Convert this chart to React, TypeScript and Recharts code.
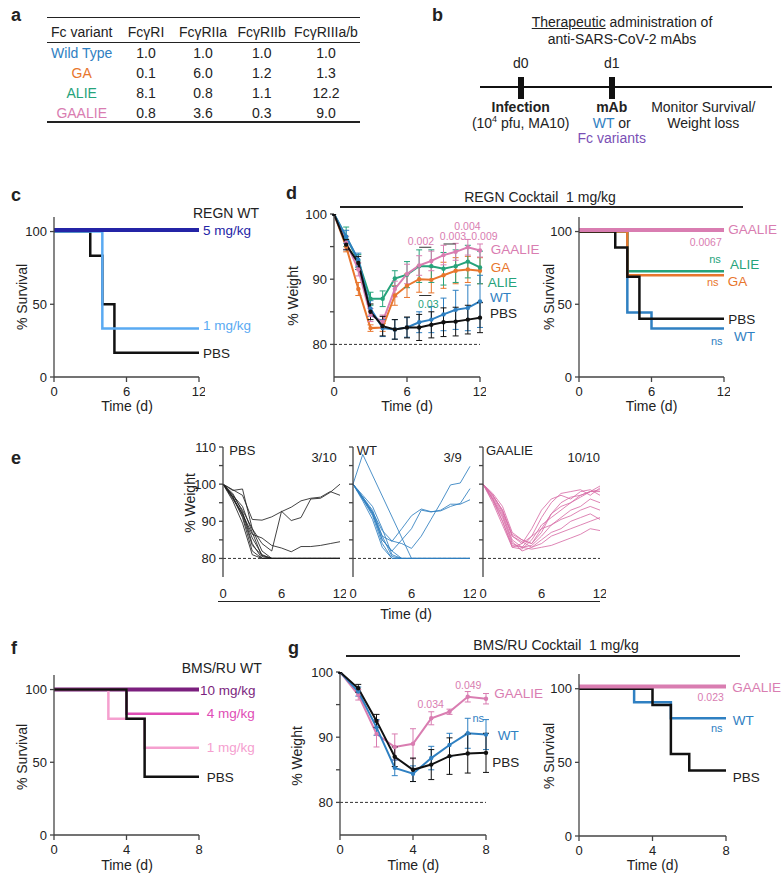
import React from "react";
import { LineChart, Line, XAxis, YAxis, ErrorBar, ReferenceLine } from "recharts";

const FONT = "'Liberation Sans', Arial, sans-serif";
const INK = "#222";
const AX = "#444";

const C_WT = "#2f80c2";
const C_GA = "#e8762d";
const C_ALIE = "#26a37b";
const C_GAALIE = "#d97db1";
const C_PBS = "#111111";

// ---- a: fold change table ----
const variants = ["Wild Type", "GA", "ALIE", "GAALIE"];
const variantColors = [C_WT, C_GA, C_ALIE, C_GAALIE];
const receptors = ["FcγRI", "FcγRIIa", "FcγRIIb", "FcγRIIIa/b"];
const foldRI = [1.0, 0.1, 8.1, 0.8];
const foldRIIa = [1.0, 6.0, 0.8, 3.6];
const foldRIIb = [1.0, 1.2, 1.1, 0.3];
const foldRIIIab = [1.0, 1.3, 12.2, 9.0];

// ---- c: REGN WT survival ----
const cPbsT = [0, 3, 4, 5, 12];
const cPbsS = [100, 83.3, 50, 16.7, 16.7];
const c1T = [0, 4, 12];
const c1S = [100, 33.3, 33.3];
const c5T = [0, 12];
const c5S = [101, 101];

// ---- d: REGN cocktail weight ----
const dDays = [0, 1, 2, 3, 4, 5, 6, 7, 8, 9, 10, 11, 12];
const dPbs = [100, 95.3, 92.5, 85, 82.8, 82.3, 82.6, 82.6, 83, 83.4, 83.5, 83.8, 84.1];
const dPbsErr = [0, 0.8, 1, 1.2, 1.5, 1.5, 1.6, 2, 2, 2.2, 2.2, 2.2, 2.3];
const dWt = [100, 96.5, 93, 85.5, 82.5, 82.3, 82.6, 83.4, 83.8, 84.6, 85.3, 85.6, 86.6];
const dWtErr = [0, 1, 1, 1.2, 1.3, 1.5, 1.5, 1.6, 2, 2.5, 3, 3.5, 4];
const dAlie = [100, 96.5, 92.8, 87, 87, 90.1, 90.7, 92, 92, 91.6, 92, 92.7, 91.8];
const dAlieErr = [0, 1.5, 1, 1, 1.2, 1.2, 2, 2.5, 2.5, 2.5, 2.5, 2.5, 2.5];
const dGa = [100, 95, 88.5, 82.5, 82.6, 87.5, 89, 90, 89.9, 90.6, 91.3, 91.5, 91.3];
const dGaErr = [0, 0.8, 1, 0.5, 0.6, 1.5, 1.8, 2, 2, 2, 2, 2, 2];
const dGaalie = [100, 95.6, 91.5, 84.5, 83.5, 88.5, 90.8, 92.1, 92.8, 93.7, 94.2, 94.9, 94.4];
const dGaalieErr = [0, 1, 1, 1, 1, 1.2, 1.5, 1.5, 1.5, 1.5, 1.3, 1.2, 1];

// ---- d: REGN cocktail survival ----
const dsGaalieT = [0, 12];
const dsGaalieS = [101, 101];
const dsAlieT = [0, 4, 12];
const dsAlieS = [100, 72.7, 72.7];
const dsGaT = [0, 4, 12];
const dsGaS = [100, 70, 70];
const dsPbsT = [0, 3, 4, 5, 12];
const dsPbsS = [100, 89, 69, 40, 40];
const dsWtT = [0, 4, 6, 12];
const dsWtS = [100, 44.4, 33.3, 33.3];

// ---- e: individual mice ----
const ePbs = [
  [100, 97, 93, 88, 84, 82, 92.7, 90.2, 91, 96, 96.2, 97.8, 100],
  [100, 98.5, 97, 90.5, 90.3, 91.2, 92.6, 93.8, 95.5, 96.2, 96.5, 98, 97],
  [100, 96.5, 92, 86.5, 85.5, 83.5, 82.8, 81.8, 83.2, 83.2, 83.5, 84, 84.5],
  [100, 98.3, 98.7, 88, 82, 80, 80, 80, 80, 80, 80, 80, 80],
  [100, 97.5, 92.5, 84, 80, 80, 80, 80, 80, 80, 80, 80, 80],
  [100, 96.5, 91, 82, 80, 80, 80, 80, 80, 80, 80, 80, 80],
  [100, 96, 92, 85.5, 81, 80, 80, 80, 80, 80, 80, 80, 80],
  [100, 97, 94, 87, 80.5, 80, 80, 80, 80, 80, 80, 80, 80],
  [100, 95.5, 89.5, 81, 80, 80, 80, 80, 80, 80, 80, 80, 80],
  [100, 96.5, 91.5, 83.5, 80.8, 80, 80, 80, 80, 80, 80, 80, 80],
];
const eWt = [
  [100, 108, null, null, null, null, 80, 80, 80, 80, 80, 80, 80],
  [100, 96, 92.5, 87.5, 84.7, 84, 82.7, 86, 90.5, 95, 99.8, 100.3, 104.8],
  [100, 96, 92, 86, 84.6, 88, 91.5, 93.3, 92.6, 92.8, 94, 94.8, 98.8],
  [100, 96.5, 92.5, 85, 82, 85, 88, 93, 92.5, 93, 94.6, 94.6, 95.8],
  [100, 96.5, 93, 86, 80.5, 80, 80, 80, 80, 80, 80, 80, 80],
  [100, 96, 91.5, 84, 80, 80, 80, 80, 80, 80, 80, 80, 80],
  [100, 97, 94, 88, 81, 80, 80, 80, 80, 80, 80, 80, 80],
  [100, 95.5, 90.5, 83, 80, 80, 80, 80, 80, 80, 80, 80, 80],
  [100, 96.5, 92, 85, 82, 80, 80, 80, 80, 80, 80, 80, 80],
];
const eGaalie = [
  [100, 97, 93, 86, 84, 88, 93, 96, 97, 96, 98, 98.5, 97],
  [100, 96, 91, 84, 83, 86, 91, 95, 97.5, 98, 98.5, 97, 99],
  [100, 97.5, 94, 87, 85, 84, 88, 92, 94, 95, 96.5, 98, 99.5],
  [100, 96, 90, 83, 82.5, 85, 89, 91, 93, 95, 97, 98, 98],
  [100, 96.5, 92, 85, 83, 83.5, 86, 89, 91, 93, 94, 96, 95],
  [100, 95, 89, 83, 84, 86, 88, 89, 90.5, 91.5, 93, 94, 93],
  [100, 97, 92.5, 86, 84.5, 83, 85, 87, 88, 90, 91, 92, 90.5],
  [100, 96, 91.5, 84.5, 82, 83, 84, 86, 87, 88, 89, 90, 91],
  [100, 95.5, 90, 83.5, 83, 82.5, 83, 83.5, 84.5, 85.5, 86.5, 88, 87.5],
  [100, 97, 93, 86.5, 85, 84, 87, 92, 95, 96.5, 97, 98, 98.5],
];

// ---- f: BMS/RU WT survival ----
const f10T = [0, 8];
const f10S = [100, 100];
const f4T = [0, 4, 8];
const f4S = [100, 83.3, 83.3];
const f1T = [0, 3, 5, 8];
const f1S = [100, 80, 60, 60];
const fPbsT = [0, 4, 5, 8];
const fPbsS = [100, 80, 40, 40];

// ---- g: BMS/RU cocktail ----
const gDays = [0, 1, 2, 3, 4, 5, 6, 7, 8];
const gPbs = [100, 97.5, 92.5, 87, 85, 85.8, 87.1, 87.5, 87.6];
const gPbsErr = [0, 0.6, 1, 1.5, 1.8, 2.3, 2.8, 3, 3];
const gWt = [100, 97, 91.5, 85.3, 84.4, 86.8, 88.8, 90.6, 90.4];
const gWtErr = [0, 0.7, 1.2, 1.2, 1.2, 1.8, 1.8, 2.3, 2.3];
const gGaalie = [100, 96.5, 90.5, 88.5, 89, 92.9, 93.9, 96.2, 95.9];
const gGaalieErr = [0, 0.8, 2, 2, 2.3, 1, 0.4, 0.8, 0.8];
const gsGaalieT = [0, 8];
const gsGaalieS = [101.5, 101.5];
const gsWtT = [0, 3, 5, 8];
const gsWtS = [100, 90.9, 80, 80];
const gsPbsT = [0, 4, 5, 6, 8];
const gsPbsS = [100, 88.9, 55.6, 44.4, 44.4];

const km = (t: number[], s: number[]) => t.map((x, i) => ({ t: x, v: s[i] }));
const wts = (t: number[], v: (number | null)[], e?: number[]) =>
  t.map((x, i) => ({ t: x, v: v[i], e: e ? e[i] : 0 }));

type Box = [number, number, number, number];
const YW = 34;
const XH = 26;
const MR = 6;
const MT = 6;

function Plot(props: {
  box: Box;
  xMax: number;
  xTicks: number[];
  yDomain: [number, number];
  yTicks: number[];
  yFmt?: (v: number) => string;
  bare?: boolean;
  children: React.ReactNode;
}) {
  const [x0, y0, x1, y1] = props.box;
  const w = YW + (x1 - x0) + MR;
  const h = MT + (y1 - y0) + XH;
  const tickStyle = { fontSize: 13, fill: INK, fontFamily: FONT };
  return (
    <div style={{ position: "absolute", left: x0 - YW, top: y0 - MT }}>
      <LineChart width={w} height={h} margin={{ top: MT, right: MR, bottom: 0, left: 0 }}>
        <XAxis
          type="number"
          dataKey="t"
          domain={[0, props.xMax]}
          ticks={props.xTicks}
          interval={0}
          height={XH}
          axisLine={props.bare ? false : { stroke: AX, strokeWidth: 1.3 }}
          tickLine={props.bare ? false : { stroke: AX, strokeWidth: 1.3 }}
          tickSize={props.bare ? 0 : 5}
          tickMargin={props.bare ? 12 : 5}
          tick={tickStyle}
        />
        <YAxis
          type="number"
          domain={props.yDomain}
          ticks={props.yTicks}
          interval={0}
          width={YW}
          axisLine={{ stroke: AX, strokeWidth: 1.3 }}
          tickLine={{ stroke: AX, strokeWidth: 1.3 }}
          tickSize={4}
          tickMargin={3}
          tick={tickStyle}
          tickFormatter={props.yFmt}
          allowDataOverflow
        />
        {props.children}
      </LineChart>
    </div>
  );
}

function T(p: {
  x: number;
  y: number;
  c?: string;
  s?: number;
  a?: "s" | "m" | "e";
  b?: boolean;
  r?: boolean;
  children: React.ReactNode;
}) {
  const tx = p.r || p.a === "m" ? "-50%" : p.a === "e" ? "-100%" : "0";
  return (
    <div
      style={{
        position: "absolute",
        left: p.x,
        top: p.y,
        transform: `translate(${tx}, -50%)${p.r ? " rotate(-90deg)" : ""}`,
        color: p.c ?? INK,
        fontSize: p.s ?? 13.5,
        fontWeight: p.b ? "bold" : "normal",
        whiteSpace: "nowrap",
        lineHeight: 1,
        fontFamily: FONT,
      }}
    >
      {p.children}
    </div>
  );
}

function Rule(p: { x: number; y: number; w: number; h?: number; c?: string }) {
  return (
    <div style={{ position: "absolute", left: p.x, top: p.y, width: p.w, height: p.h ?? 1.3, background: p.c ?? "#222" }} />
  );
}

const tenths = (v: number) => (v % 10 === 0 ? String(v) : "");
const none = () => "";

function kmLine(t: number[], s: number[], color: string, width = 2.5) {
  return (
    <Line data={km(t, s)} dataKey="v" type="stepAfter" stroke={color} strokeWidth={width} dot={false} activeDot={false} isAnimationActive={false} />
  );
}

function wLine(t: number[], v: number[], e: number[], color: string) {
  return (
    <Line data={wts(t, v, e)} dataKey="v" stroke={color} strokeWidth={2} dot={{ r: 2.2, fill: color, stroke: color, strokeWidth: 0 }} activeDot={false} isAnimationActive={false}>
      <ErrorBar dataKey="e" direction="y" width={3} stroke={color} strokeWidth={1} isAnimationActive={false} />
    </Line>
  );
}

function mice(rows: (number | null)[][], color: string) {
  return rows.map((r, i) => (
    <Line key={i} data={wts(dDays, r)} dataKey="v" stroke={color} strokeWidth={1} strokeOpacity={0.85} dot={false} activeDot={false} connectNulls isAnimationActive={false} />
  ));
}

const colX = [81.7, 146, 203, 261.7, 326];
const rowY = [53.3, 72.7, 92.7, 113.3];
const folds = [foldRI, foldRIIa, foldRIIb, foldRIIIab];

export default function App() {
  return (
    <div style={{ position: "absolute", left: 0, top: 0, width: 781, height: 882, background: "#fff", overflow: "hidden", fontFamily: FONT }}>
      {/* panel letters */}
      <T x={11} y={15} s={18} b>a</T>
      <T x={432} y={15} s={18} b>b</T>
      <T x={11} y={195} s={18} b>c</T>
      <T x={286} y={193} s={18} b>d</T>
      <T x={11} y={458} s={18} b>e</T>
      <T x={11} y={648} s={18} b>f</T>
      <T x={288} y={648} s={18} b>g</T>

      {/* a */}
      <Rule x={47} y={16.5} w={313} h={1.5} />
      <Rule x={47} y={41.5} w={313} h={1.6} />
      <Rule x={47} y={120.5} w={313} h={2} />
      <T x={colX[0]} y={32.3} a="m" s={14}>Fc variant</T>
      {receptors.map((r, j) => (
        <T key={r} x={colX[j + 1]} y={32.3} a="m" s={14}>{r}</T>
      ))}
      {variants.map((v, i) => (
        <React.Fragment key={v}>
          <T x={colX[0]} y={rowY[i]} a="m" s={14} c={variantColors[i]}>{v}</T>
          {folds.map((f, j) => (
            <T key={j} x={colX[j + 1]} y={rowY[i]} a="m" s={14}>{f[i].toFixed(1)}</T>
          ))}
        </React.Fragment>
      ))}

      {/* b */}
      <T x={622} y={21.7} a="m" s={14}><u>Therapeutic</u> administration of</T>
      <T x={622} y={38.5} a="m" s={14}>anti-SARS-CoV-2 mAbs</T>
      <T x={520.7} y={63} a="m" s={14}>d0</T>
      <T x={611.7} y={63} a="m" s={14}>d1</T>
      <Rule x={480} y={86} w={292} h={2.4} c="#111" />
      <Rule x={517.5} y={77} w={6.5} h={21.5} c="#111" />
      <Rule x={608.5} y={77} w={6.5} h={21.5} c="#111" />
      <T x={520.7} y={107.3} a="m" s={14} b>Infection</T>
      <T x={520.7} y={122.5} a="m" s={14}>(10<sup style={{ fontSize: 9, lineHeight: 0 }}>4</sup> pfu, MA10)</T>
      <T x={611.7} y={107.3} a="m" s={14} b>mAb</T>
      <T x={611.7} y={122.5} a="m" s={14}><span style={{ color: C_WT }}>WT</span> or</T>
      <T x={611.7} y={137.5} a="m" s={14} c="#7a4fb5">Fc variants</T>
      <T x={703.3} y={107.3} a="m" s={14}>Monitor Survival/</T>
      <T x={703.3} y={122.5} a="m" s={14}>Weight loss</T>

      {/* c */}
      <Plot box={[54, 217, 199, 377]} xMax={12} xTicks={[0, 6, 12]} yDomain={[0, 110]} yTicks={[0, 50, 100]}>
        {kmLine(cPbsT, cPbsS, C_PBS)}
        {kmLine(c1T, c1S, "#5aaaf2")}
        {kmLine(c5T, c5S, "#2424a6", 4)}
      </Plot>
      <T x={22} y={297} r s={14}>% Survival</T>
      <T x={127} y={406} a="m" s={14}>Time (d)</T>
      <T x={226} y={213} a="m" s={14}>REGN WT</T>
      <T x={203} y={231} s={13.5} c="#2424a6">5 mg/kg</T>
      <T x={203} y={326} s={13.5} c="#5aaaf2">1 mg/kg</T>
      <T x={203} y={353.5} s={13.5}>PBS</T>

      {/* d */}
      <Rule x={340} y={206.3} w={403} />
      <T x={540} y={196.7} a="m" s={14}>REGN Cocktail{"\u00a0\u00a0"}1 mg/kg</T>
      <Plot box={[334, 214, 480, 377]} xMax={12} xTicks={[0, 6, 12]} yDomain={[75, 100]} yTicks={[80, 85, 90, 95, 100]} yFmt={tenths}>
        <ReferenceLine y={80} stroke="#333" strokeDasharray="3 2" strokeWidth={1} />
        {wLine(dDays, dGa, dGaErr, C_GA)}
        {wLine(dDays, dAlie, dAlieErr, C_ALIE)}
        {wLine(dDays, dGaalie, dGaalieErr, C_GAALIE)}
        {wLine(dDays, dWt, dWtErr, C_WT)}
        {wLine(dDays, dPbs, dPbsErr, C_PBS)}
        <ReferenceLine segment={[{ x: 7, y: 94.9 }, { x: 8, y: 94.9 }]} stroke="#333" strokeWidth={1} />
        <ReferenceLine segment={[{ x: 9, y: 95.4 }, { x: 10, y: 95.4 }]} stroke="#333" strokeWidth={1} />
        <ReferenceLine segment={[{ x: 7, y: 87.5 }, { x: 8, y: 87.5 }]} stroke="#333" strokeWidth={1} />
      </Plot>
      <T x={293} y={296} r s={14}>% Weight</T>
      <T x={407} y={406} a="m" s={14}>Time (d)</T>
      <T x={421} y={240.7} a="m" s={10.5} c={C_GAALIE}>0.002</T>
      <T x={453} y={236} a="m" s={10.5} c={C_GAALIE}>0.003</T>
      <T x={467.5} y={226} a="m" s={10.5} c={C_GAALIE}>0.004</T>
      <T x={484.5} y={236} a="m" s={10.5} c={C_GAALIE}>0.009</T>
      <T x={428.3} y={304} a="m" s={10.5} c={C_ALIE}>0.03</T>
      <T x={490.7} y={250} s={13.5} c={C_GAALIE}>GAALIE</T>
      <T x={490.7} y={268.3} s={13.5} c={C_GA}>GA</T>
      <T x={487.7} y={283.3} s={13.5} c={C_ALIE}>ALIE</T>
      <T x={490} y={297.7} s={13.5} c={C_WT}>WT</T>
      <T x={490} y={314.3} s={13.5}>PBS</T>

      <Plot box={[579, 217, 724, 377]} xMax={12} xTicks={[0, 6, 12]} yDomain={[0, 110]} yTicks={[0, 50, 100]}>
        {kmLine(dsWtT, dsWtS, C_WT)}
        {kmLine(dsAlieT, dsAlieS, C_ALIE)}
        {kmLine(dsGaT, dsGaS, C_GA)}
        {kmLine(dsPbsT, dsPbsS, C_PBS)}
        {kmLine(dsGaalieT, dsGaalieS, C_GAALIE, 4)}
      </Plot>
      <T x={549} y={297} r s={14}>% Survival</T>
      <T x={651.5} y={406} a="m" s={14}>Time (d)</T>
      <T x={728.3} y={230} s={13.5} c={C_GAALIE}>GAALIE</T>
      <T x={705.7} y={241.7} a="m" s={10.5} c={C_GAALIE}>0.0067</T>
      <T x={715} y={259} a="m" s={11} c={C_ALIE}>ns</T>
      <T x={730} y={265} s={13.5} c={C_ALIE}>ALIE</T>
      <T x={712.7} y={281.7} a="m" s={11} c={C_GA}>ns</T>
      <T x={727.7} y={281.7} s={13.5} c={C_GA}>GA</T>
      <T x={728.3} y={320} s={13.5}>PBS</T>
      <T x={716.7} y={340.7} a="m" s={11} c={C_WT}>ns</T>
      <T x={734} y={336.7} s={13.5} c={C_WT}>WT</T>

      {/* e */}
      <Plot box={[223, 447, 340, 577]} xMax={12} xTicks={[0, 6, 12]} yDomain={[75, 110]} yTicks={[80, 85, 90, 95, 100, 105, 110]} yFmt={tenths} bare>
        <ReferenceLine y={80} stroke="#333" strokeDasharray="3 2" strokeWidth={1} />
        {mice(ePbs, "#222")}
      </Plot>
      <Plot box={[353, 447, 470, 577]} xMax={12} xTicks={[0, 6, 12]} yDomain={[75, 110]} yTicks={[80, 85, 90, 95, 100, 105, 110]} yFmt={none} bare>
        <ReferenceLine y={80} stroke="#333" strokeDasharray="3 2" strokeWidth={1} />
        {mice(eWt, "#2f7fbf")}
      </Plot>
      <Plot box={[483, 447, 600, 577]} xMax={12} xTicks={[0, 6, 12]} yDomain={[75, 110]} yTicks={[80, 85, 90, 95, 100, 105, 110]} yFmt={none} bare>
        <ReferenceLine y={80} stroke="#333" strokeDasharray="3 2" strokeWidth={1} />
        {mice(eGaalie, "#d870a8")}
      </Plot>
      <Rule x={218} y={601} w={382} />
      <T x={190} y={503} r s={14}>% Weight</T>
      <T x={406} y={614} a="m" s={14}>Time (d)</T>
      <T x={229.3} y={450} s={13}>PBS</T>
      <T x={336.7} y={456.7} a="e" s={13}>3/10</T>
      <T x={356.7} y={450} s={13}>WT</T>
      <T x={461.7} y={456.7} a="e" s={13}>3/9</T>
      <T x={486} y={450} s={13}>GAALIE</T>
      <T x={600} y={456.7} a="e" s={13}>10/10</T>

      {/* f */}
      <Plot box={[54, 675, 199, 835]} xMax={8} xTicks={[0, 4, 8]} yDomain={[0, 110]} yTicks={[0, 50, 100]}>
        {kmLine(f10T, f10S, "#7b1f7e", 4)}
        {kmLine(f1T, f1S, "#f5a0cf")}
        {kmLine(f4T, f4S, "#e04db5")}
        {kmLine(fPbsT, fPbsS, C_PBS)}
      </Plot>
      <T x={22} y={757} r s={14}>% Survival</T>
      <T x={127} y={865} a="m" s={14}>Time (d)</T>
      <T x={221.7} y={668.3} a="m" s={14}>BMS/RU WT</T>
      <T x={200} y={690.7} s={13.5} c="#7b1f7e">10 mg/kg</T>
      <T x={206.7} y={714.3} s={13.5} c="#e04db5">4 mg/kg</T>
      <T x={206.7} y={747.7} s={13.5} c="#f5a0cf">1 mg/kg</T>
      <T x={206.7} y={778.3} s={13.5}>PBS</T>

      {/* g */}
      <Rule x={346} y={655.3} w={394} />
      <T x={556} y={645} a="m" s={14}>BMS/RU Cocktail{"\u00a0\u00a0"}1 mg/kg</T>
      <Plot box={[340, 672, 486, 835]} xMax={8} xTicks={[0, 4, 8]} yDomain={[75, 100]} yTicks={[80, 85, 90, 95, 100]} yFmt={tenths}>
        <ReferenceLine y={80} stroke="#333" strokeDasharray="3 2" strokeWidth={1} />
        {wLine(gDays, gGaalie, gGaalieErr, C_GAALIE)}
        {wLine(gDays, gWt, gWtErr, C_WT)}
        {wLine(gDays, gPbs, gPbsErr, C_PBS)}
      </Plot>
      <T x={297} y={756} r s={14}>% Weight</T>
      <T x={413.3} y={865} a="m" s={14}>Time (d)</T>
      <T x={430.7} y={704.3} a="m" s={10.5} c={C_GAALIE}>0.034</T>
      <T x={468.3} y={685} a="m" s={10.5} c={C_GAALIE}>0.049</T>
      <T x={478.3} y={717.7} a="m" s={11} c={C_WT}>ns</T>
      <T x={494.3} y={694} s={13.5} c={C_GAALIE}>GAALIE</T>
      <T x={497.7} y={735.7} s={13.5} c={C_WT}>WT</T>
      <T x={492.3} y={763.3} s={13.5}>PBS</T>

      <Plot box={[579, 674, 726, 836]} xMax={8} xTicks={[0, 4, 8]} yDomain={[0, 110]} yTicks={[0, 50, 100]}>
        {kmLine(gsWtT, gsWtS, C_WT)}
        {kmLine(gsPbsT, gsPbsS, C_PBS)}
        {kmLine(gsGaalieT, gsGaalieS, C_GAALIE, 4)}
      </Plot>
      <T x={549} y={756} r s={14}>% Survival</T>
      <T x={652.5} y={865} a="m" s={14}>Time (d)</T>
      <T x={732.3} y={688.3} s={13.5} c={C_GAALIE}>GAALIE</T>
      <T x={710.7} y={697} a="m" s={10.5} c={C_GAALIE}>0.023</T>
      <T x={732.7} y={720.7} s={13.5} c={C_WT}>WT</T>
      <T x={716.7} y={728.3} a="m" s={11} c={C_WT}>ns</T>
      <T x={732.7} y={778.3} s={13.5}>PBS</T>
    </div>
  );
}
